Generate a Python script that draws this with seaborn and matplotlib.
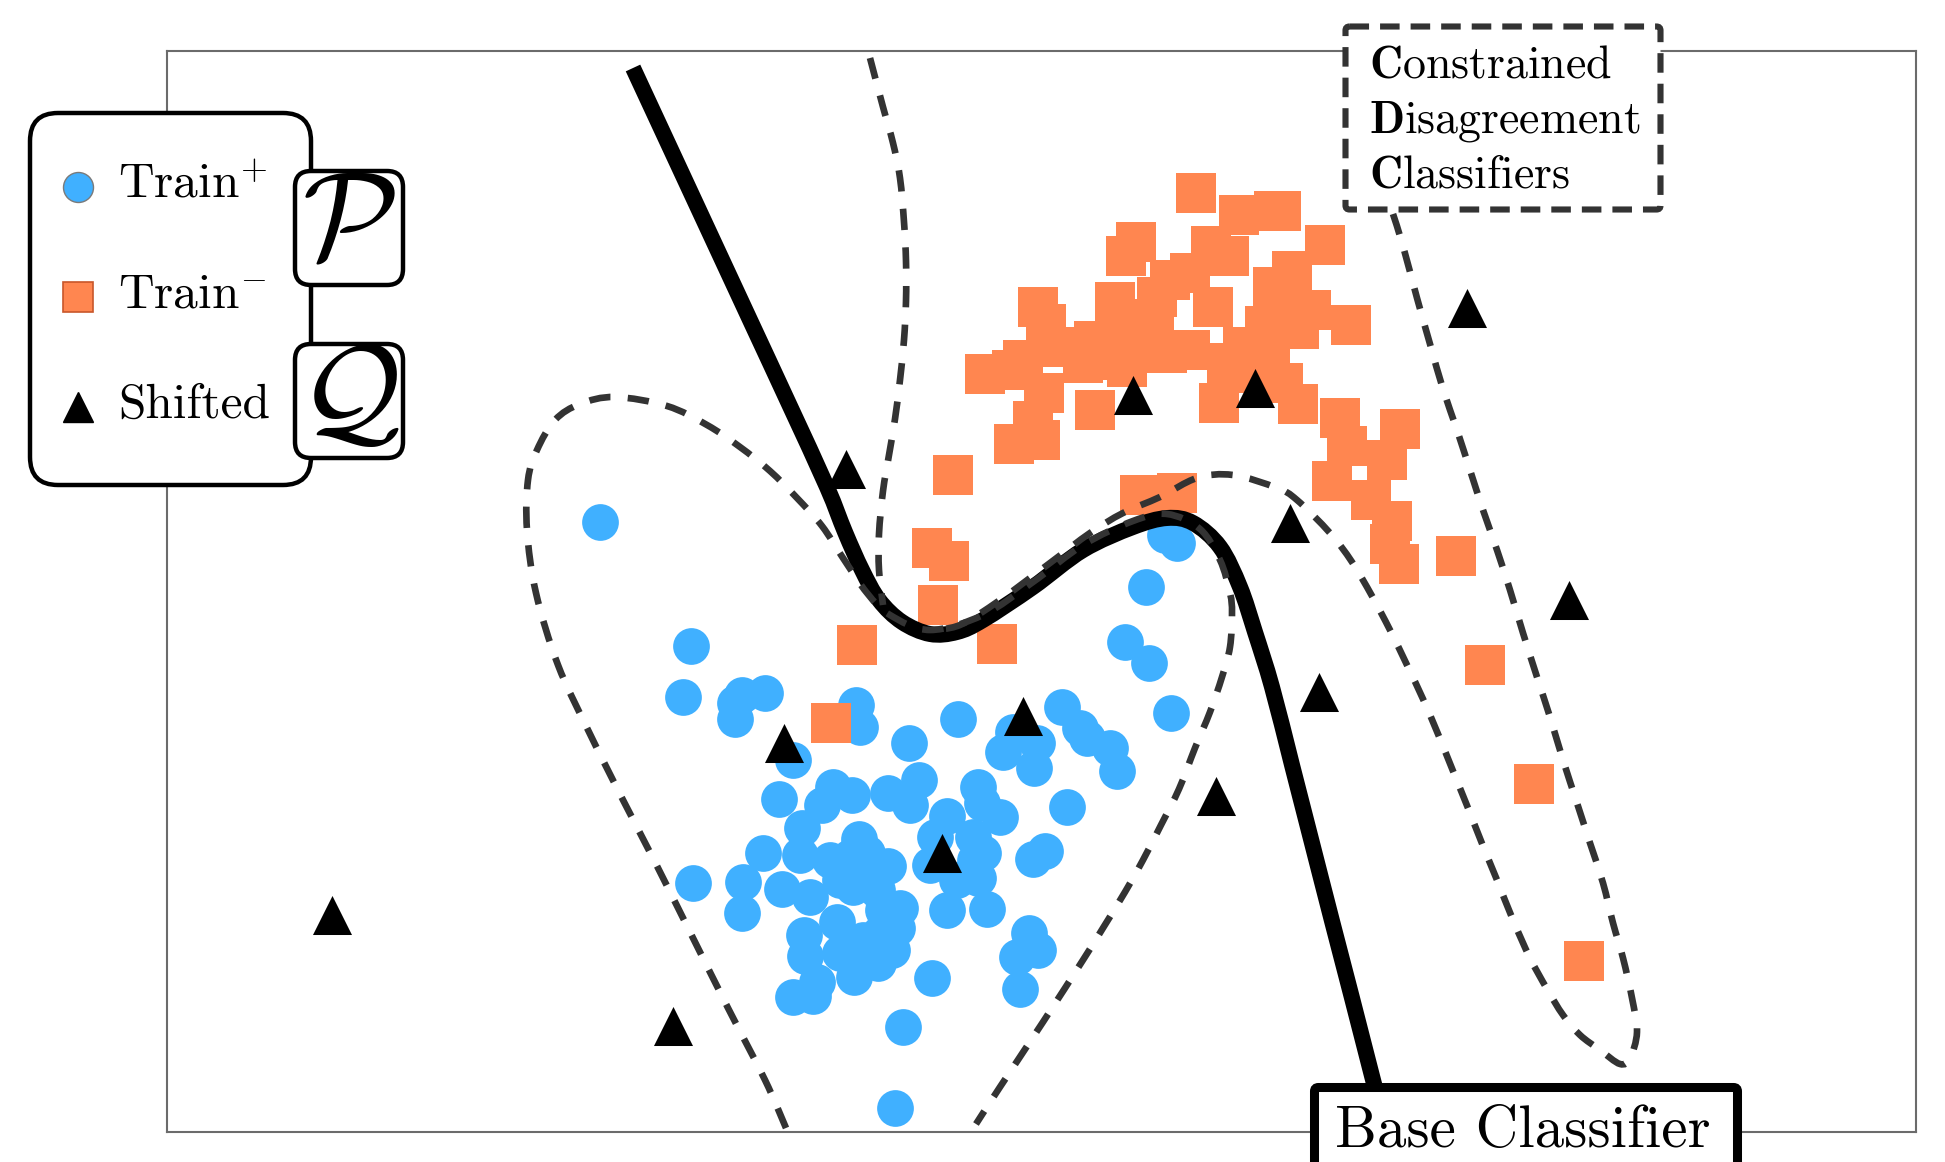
import numpy as np
import pandas as pd
import matplotlib
matplotlib.use("Agg")
import matplotlib.pyplot as plt
from matplotlib.path import Path
from matplotlib.patches import PathPatch, FancyBboxPatch
import seaborn as sns

# ---------------- data (feature space coordinates) ----------------
train_pos_x = [5.24, 5.16, 5.68, 5.75, 5.98, 5.68, 6.89, 6.93, 6.26, 7.42, 7.91, 8.95, 9.13,
               9.20, 9.43, 9.50, 8.36, 8.70, 8.67, 8.46, 6.12, 6.35, 6.55, 6.66, 6.85, 7.21,
               7.52, 7.43, 7.80, 7.68, 8.11, 8.15, 8.33, 8.06, 8.08, 8.11, 9.00, 8.78, 8.66,
               5.96, 6.33, 6.63, 6.92, 6.83, 7.21, 6.93, 7.63, 5.26, 5.76, 5.75, 6.15, 6.43,
               6.86, 7.10, 7.33, 7.80, 8.20, 6.70, 6.37, 6.38, 6.73, 7.13, 7.30, 7.25, 6.87,
               7.11, 6.50, 6.26, 6.46, 7.65, 8.62, 8.71, 8.50, 8.53, 7.36, 7.28, 4.33, 9.98,
               10.10, 9.79, 9.58, 9.82, 10.04, 7.00, 6.73, 7.16, 6.96, 6.83, 8.16, 7.90]
train_pos_y = [4.86, 4.35, 4.29, 4.37, 4.39, 4.13, 4.27, 4.05, 3.72, 3.89, 4.13, 4.25, 4.04,
               3.94, 3.84, 3.61, 3.80, 3.89, 3.64, 4.00, 3.33, 3.04, 3.27, 3.45, 3.37, 3.39,
               3.52, 3.27, 3.16, 2.95, 3.45, 3.29, 3.15, 2.95, 2.72, 2.54, 3.25, 2.81, 2.73,
               2.79, 2.77, 2.72, 2.93, 2.75, 2.66, 2.59, 2.67, 2.49, 2.50, 2.19, 2.43, 2.35,
               2.45, 2.42, 2.24, 2.22, 2.23, 2.10, 1.97, 1.76, 1.79, 1.99, 2.04, 1.82, 1.55,
               1.69, 1.50, 1.35, 1.36, 1.54, 1.99, 1.82, 1.75, 1.43, 1.05, 0.24, 6.10, 5.97,
               5.89, 5.45, 4.90, 4.69, 4.19, 2.79, 2.52, 2.22, 1.92, 1.79, 2.79, 2.52]

train_neg_x = [10.29, 10.72, 11.07, 11.14, 11.58, 10.44, 10.62, 9.69, 9.59, 10.03, 11.06, 11.25,
               11.84, 11.44, 10.98, 11.32, 9.48, 9.27, 8.71, 8.79, 9.87, 10.46, 8.18, 8.45,
               8.56, 8.66, 8.47, 8.73, 8.77, 9.28, 9.16, 9.60, 10.00, 10.23, 10.52, 10.60,
               11.31, 11.16, 11.03, 10.76, 11.73, 12.33, 11.80, 11.65, 12.20, 12.04, 12.25,
               12.23, 12.32, 12.89, 7.86, 7.65, 7.82, 7.71, 6.90, 8.30, 6.64, 9.73, 10.10,
               13.18, 13.67, 14.17, 9.66, 9.90, 11.10, 10.23, 8.93, 9.40, 10.83]
train_neg_y = [9.39, 9.17, 9.21, 9.21, 8.87, 8.86, 8.76, 8.90, 8.76, 8.52, 8.45, 8.61,
               8.07, 8.22, 8.06, 8.03, 8.30, 7.91, 8.25, 8.08, 8.13, 8.25, 7.58, 7.62,
               7.72, 7.11, 6.88, 6.92, 7.39, 7.22, 7.69, 7.65, 7.79, 7.82, 7.29, 7.69,
               7.28, 7.49, 7.85, 7.85, 7.14, 7.03, 6.86, 6.51, 6.72, 6.32, 6.11,
               5.88, 5.68, 5.76, 6.57, 5.84, 5.71, 5.27, 4.87, 4.88, 4.09, 6.37, 6.39,
               4.67, 3.48, 1.71, 7.99, 8.35, 8.32, 8.59, 7.85, 7.72, 7.59]

shifted_x = [1.65, 5.06, 6.17, 6.79, 7.75, 8.56, 9.66, 10.88, 11.23, 11.52, 10.49, 13.00, 14.02]
shifted_y = [2.17, 1.06, 3.89, 6.63, 2.79, 4.16, 7.37, 7.44, 6.09, 4.40, 3.36, 8.24, 5.32]

# base classifier decision boundary
base_x = [4.66, 5.05, 5.44, 5.83, 6.22, 6.60, 6.78, 6.95, 7.12, 7.35, 7.63, 7.90, 8.16,
          8.66, 9.16, 9.66, 10.00, 10.26, 10.53, 10.73, 10.88, 11.05, 11.25, 11.45, 11.65,
          11.85, 12.05, 12.19]
base_y = [10.64, 9.80, 8.96, 8.12, 7.28, 6.45, 6.00, 5.62, 5.32, 5.10, 4.98, 5.00, 5.12,
          5.45, 5.82, 6.05, 6.14, 6.09, 5.85, 5.45, 5.00, 4.45, 3.67, 2.89, 2.11,
          1.34, 0.56, 0.02]

# constrained disagreement classifiers
cdc1_x = [7.03, 7.16, 7.26, 7.33, 7.37, 7.39, 7.39, 7.37, 7.33, 7.28, 7.22, 7.16, 7.12, 7.12, 7.16]
cdc1_y = [10.74, 10.25, 9.89, 9.54, 9.10, 8.71, 8.31, 7.92, 7.52, 7.13, 6.77, 6.41, 5.98, 5.62, 5.27]

cdc2_x = [6.19, 5.98, 5.61, 5.26, 4.89, 4.56, 4.22, 3.91, 3.69, 3.60, 3.61, 3.70, 3.88, 4.13,
          4.48, 5.00, 5.40, 5.73, 6.03, 6.30, 6.55, 6.76, 7.00, 7.23, 7.63, 8.16, 8.66, 9.16,
          9.66, 10.00, 10.33, 10.53, 10.63, 10.65, 10.63, 10.55, 10.43, 10.28, 10.12, 9.94,
          9.76, 9.58, 9.36, 9.16, 8.76, 8.33, 8.09]
cdc2_y = [0.04, 0.52, 1.24, 1.94, 2.68, 3.32, 4.00, 4.67, 5.39, 6.02, 6.52, 6.82, 7.12, 7.28,
          7.35, 7.26, 7.07, 6.85, 6.61, 6.34, 6.06, 5.74, 5.39, 5.17, 5.02, 5.17, 5.50, 5.87,
          6.11, 6.18, 6.03, 5.72, 5.39, 5.19, 4.85, 4.55, 4.20, 3.84, 3.43, 3.07,
          2.72, 2.40, 2.04, 1.72, 1.10, 0.45, 0.08]

cdc3_x = [12.26, 12.36, 12.50, 12.63, 12.76, 12.90, 13.03, 13.16, 13.30, 13.43, 13.56, 13.70,
          13.83, 13.96, 14.10, 14.23, 14.36, 14.46, 14.56, 14.65, 14.70, 14.63, 14.53, 14.33,
          14.13, 13.96, 13.80, 13.63, 13.46, 13.30, 13.16, 13.01, 12.86, 12.71, 12.56, 12.40,
          12.23, 12.05, 11.85, 11.63, 11.30, 11.10, 10.66, 10.30, 9.93, 9.56, 9.23, 8.83,
          8.33, 7.93, 7.63]
cdc3_y = [9.18, 8.86, 8.34, 7.88, 7.43, 7.02, 6.62, 6.22, 5.82, 5.42, 4.99, 4.55,
          4.15, 3.72, 3.29, 2.89, 2.49, 2.09, 1.74, 1.34, 1.00, 0.74, 0.68, 0.82,
          0.97, 1.17, 1.43, 1.74, 2.12, 2.52, 2.86, 3.24, 3.61, 3.98, 4.33, 4.67,
          5.02, 5.36, 5.70, 5.99, 6.32, 6.44, 6.57, 6.54, 6.35, 6.19, 5.99, 5.69,
          5.32, 5.07, 5.02]

BLUE = "#40B0FF"
ORANGE = "#FF8650"
DASH_GRAY = "#333333"


def smooth_path(xs, ys):
    """Catmull-Rom curve through the knots, expressed as cubic Bezier segments."""
    pts = np.column_stack([xs, ys]).astype(float)
    n = len(pts)
    verts = [pts[0]]
    codes = [Path.MOVETO]
    for i in range(n - 1):
        p0 = pts[max(i - 1, 0)]
        p1 = pts[i]
        p2 = pts[i + 1]
        p3 = pts[min(i + 2, n - 1)]
        verts += [p1 + (p2 - p0) / 6.0, p2 - (p3 - p1) / 6.0, p2]
        codes += [Path.CURVE4] * 3
    return Path(verts, codes)


sns.set_theme(style="white")
plt.rcParams.update({
    "font.family": "cmr10",
    "mathtext.fontset": "cm",
    "axes.unicode_minus": False,
    "axes.formatter.use_mathtext": True,
    "text.color": "black",
})

W, H = 1945, 1162
fig = plt.figure(figsize=(W / 100, H / 100), dpi=100)
fig.patch.set_facecolor("white")
ax = fig.add_axes([167 / W, 1 - 1132 / H, 1749 / W, 1081 / H])

pos_df = pd.DataFrame({"x": train_pos_x, "y": train_pos_y})
neg_df = pd.DataFrame({"x": train_neg_x, "y": train_neg_y})
shift_df = pd.DataFrame({"x": shifted_x, "y": shifted_y})

sns.scatterplot(data=pos_df, x="x", y="y", marker="o", s=700, color=BLUE,
                linewidth=0, ax=ax, legend=False, zorder=2)
sns.scatterplot(data=neg_df, x="x", y="y", marker="s", s=790, color=ORANGE,
                linewidth=0, ax=ax, legend=False, zorder=2.5)
sns.scatterplot(data=shift_df, x="x", y="y", marker="^", s=790, color="black",
                linewidth=0, ax=ax, legend=False, zorder=3)

ax.add_patch(PathPatch(smooth_path(base_x, base_y), fill=False, lw=11.5, ec="black",
                       capstyle="butt", joinstyle="round", zorder=4))
for cx, cy in [(cdc1_x, cdc1_y), (cdc2_x, cdc2_y), (cdc3_x, cdc3_y)]:
    ax.add_patch(PathPatch(smooth_path(cx, cy), fill=False, lw=4.8, ec=DASH_GRAY,
                           ls=(0, (3.2, 2.6)), capstyle="butt", zorder=5))

ax.set_xlim(0, 17.49)
ax.set_ylim(0, 10.81)
ax.set_xticks([])
ax.set_yticks([])
ax.set_xlabel("")
ax.set_ylabel("")
for sp in ax.spines.values():
    sp.set_visible(True)
    sp.set_color("#6b6b6b")
    sp.set_linewidth(1.5)

# ---------------- annotation layer in pixel units ----------------
ov = fig.add_axes([0, 0, 1, 1], zorder=10)
ov.set_xlim(0, W)
ov.set_ylim(H, 0)
ov.axis("off")
ov.set_facecolor("none")

# legend panel
ov.add_patch(FancyBboxPatch((30, 113), 281, 372, boxstyle="round,pad=0,rounding_size=28",
                            fc="white", ec="black", lw=3.2))
ov.plot([78], [187], marker="o", ms=21.6, mfc=BLUE, mec="#7a7a7a", mew=1, ls="none")
ov.plot([78], [297], marker="s", ms=22.3, mfc=ORANGE, mec="#c8562a", mew=1.2, ls="none")
ov.plot([78], [407], marker="^", ms=22.3, color="black", ls="none")
ov.text(118, 198, r"Train$^{+}$", fontsize=35.5, va="baseline", ha="left")
ov.text(118, 308, r"Train$^{-}$", fontsize=35.5, va="baseline", ha="left")
ov.text(118, 418, "Shifted", fontsize=35.5, va="baseline", ha="left")

# distribution tags
for top, sym in [(171, r"$\mathcal{P}$"), (344, r"$\mathcal{Q}$")]:
    ov.add_patch(FancyBboxPatch((295, top), 108, 114, boxstyle="round,pad=0,rounding_size=16",
                                fc="white", ec="black", lw=3.2))
    ov.text(349, top + 57, sym, fontsize=90, ha="center", va="center")

# CDC caption
ov.add_patch(FancyBboxPatch((1345.5, 26.5), 315, 183, boxstyle="round,pad=0,rounding_size=4",
                            fc="white", ec=DASH_GRAY, lw=4.4, ls=(0, (3.2, 1.8))))
ov.text(1369, 78, r"$\mathbf{C}$onstrained", fontsize=33, va="baseline", ha="left")
ov.text(1369, 133, r"$\mathbf{D}$isagreement", fontsize=33, va="baseline", ha="left")
ov.text(1369, 187, r"$\mathbf{C}$lassifiers", fontsize=33, va="baseline", ha="left")

# base classifier caption
ov.add_patch(FancyBboxPatch((1314.5, 1087.5), 423, 160, boxstyle="round,pad=0,rounding_size=4",
                            fc="white", ec="black", lw=6.5))
ov.text(1335, 1147, "Base Classifier", fontsize=42.5, va="baseline", ha="left")

fig.savefig("out.png", dpi=100, facecolor="white")
